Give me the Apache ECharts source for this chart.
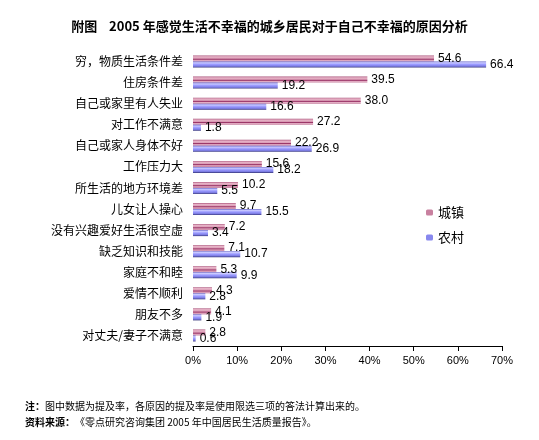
<!DOCTYPE html>
<html><head><meta charset="utf-8">
<script src="https://cdn.jsdelivr.net/npm/echarts@6/dist/echarts.min.js"></script>
<style>html,body{margin:0;padding:0;background:#fff;}#c{width:539px;height:440px;}</style>
</head><body><div id="c"></div>
<script>
const categories = ['穷，物质生活条件差','住房条件差','自己或家里有人失业','对工作不满意','自己或家人身体不好','工作压力大','所生活的地方环境差','儿女让人操心','没有兴趣爱好生活很空虚','缺乏知识和技能','家庭不和睦','爱情不顺利','朋友不多','对丈夫/妻子不满意'];
const urban = [54.6,39.5,38.0,27.2,22.2,15.6,10.2,9.7,7.2,7.1,5.3,4.3,4.1,2.8];
const rural = [66.4,19.2,16.6,1.8,26.9,18.2,5.5,15.5,3.4,10.7,9.9,2.8,1.9,0.6];
const seriesNames = ['城镇','农村'];
const titleText = '附图    2005 年感觉生活不幸福的城乡居民对于自己不幸福的原因分析';
const note1Head = '注：';
const note1Body = '图中数据为提及率，各原因的提及率是使用限选三项的答法计算出来的。';
const note2Head = '资料来源：';
const note2Body = '《零点研究咨询集团 2005 年中国居民生活质量报告》。';

const cjk = '"Noto Sans CJK SC", sans-serif';
const pinkGrad = new echarts.graphic.LinearGradient(0,0,0,1,[
  {offset:0,color:'#a85078'},{offset:0.2,color:'#e8b4c8'},{offset:0.45,color:'#dca0b8'},
  {offset:0.62,color:'#993366'},{offset:0.8,color:'#e4aec4'},{offset:1,color:'#c07898'}]);
const blueGrad = new echarts.graphic.LinearGradient(0,0,0,1,[
  {offset:0,color:'#6060c8'},{offset:0.2,color:'#ccccff'},{offset:0.5,color:'#9999ff'},
  {offset:0.8,color:'#7a7ae0'},{offset:1,color:'#333377'}]);
const lbl = {show:true,position:'right',distance:4,color:'#000',fontFamily:'Arial, "Liberation Sans"',fontSize:12,
  formatter:p=>Number(p.value).toFixed(1)};
const noteRich = {
  h:{fontFamily:cjk,fontSize:10,fontWeight:'bold',fill:'#000'},
  b:{fontFamily:cjk,fontSize:10,fill:'#000'}
};

const chart = echarts.init(document.getElementById('c'),null,{renderer:'canvas'});
chart.setOption({
  animation:false,
  backgroundColor:'#fff',
  title:{text:titleText,left:'center',top:15,itemGap:0,
    textStyle:{fontFamily:cjk,fontSize:13,fontWeight:'bold',color:'#000'}},
  legend:{orient:'vertical',left:421,top:201,itemWidth:7,itemHeight:6,itemGap:12,
    data:[{name:seriesNames[0],itemStyle:{color:'#c8809f'}},{name:seriesNames[1],itemStyle:{color:'#8888ee'}}],
    textStyle:{fontFamily:cjk,fontSize:13,color:'#000'}},
  grid:{left:193,right:37,top:51,bottom:94,containLabel:false},
  xAxis:{type:'value',min:0,max:70,interval:10,
    axisLine:{show:true,lineStyle:{color:'#000',width:1}},
    axisTick:{show:true,length:5,lineStyle:{color:'#000'}},
    splitLine:{show:false},
    axisLabel:{formatter:'{value}%',color:'#000',fontSize:11,fontFamily:'Arial, "Liberation Sans"',margin:9}},
  yAxis:{type:'category',data:categories,inverse:true,
    axisLine:{show:false},axisTick:{show:false},
    axisLabel:{color:'#000',fontSize:12,fontFamily:cjk,margin:10}},
  series:[
    {name:seriesNames[0],type:'bar',data:urban,barWidth:6,barGap:'0%',
      itemStyle:{color:pinkGrad},label:lbl},
    {name:seriesNames[1],type:'bar',data:rural,barWidth:6,barGap:'0%',
      itemStyle:{color:blueGrad},label:lbl}
  ],
  graphic:[
    {type:'text',left:25,top:401,style:{text:'{h|'+note1Head+'}{b|'+note1Body+'}',rich:noteRich}},
    {type:'text',left:25,top:417,style:{text:'{h|'+note2Head+'}{b|'+note2Body+'}',rich:noteRich}}
  ]
});
</script></body></html>
